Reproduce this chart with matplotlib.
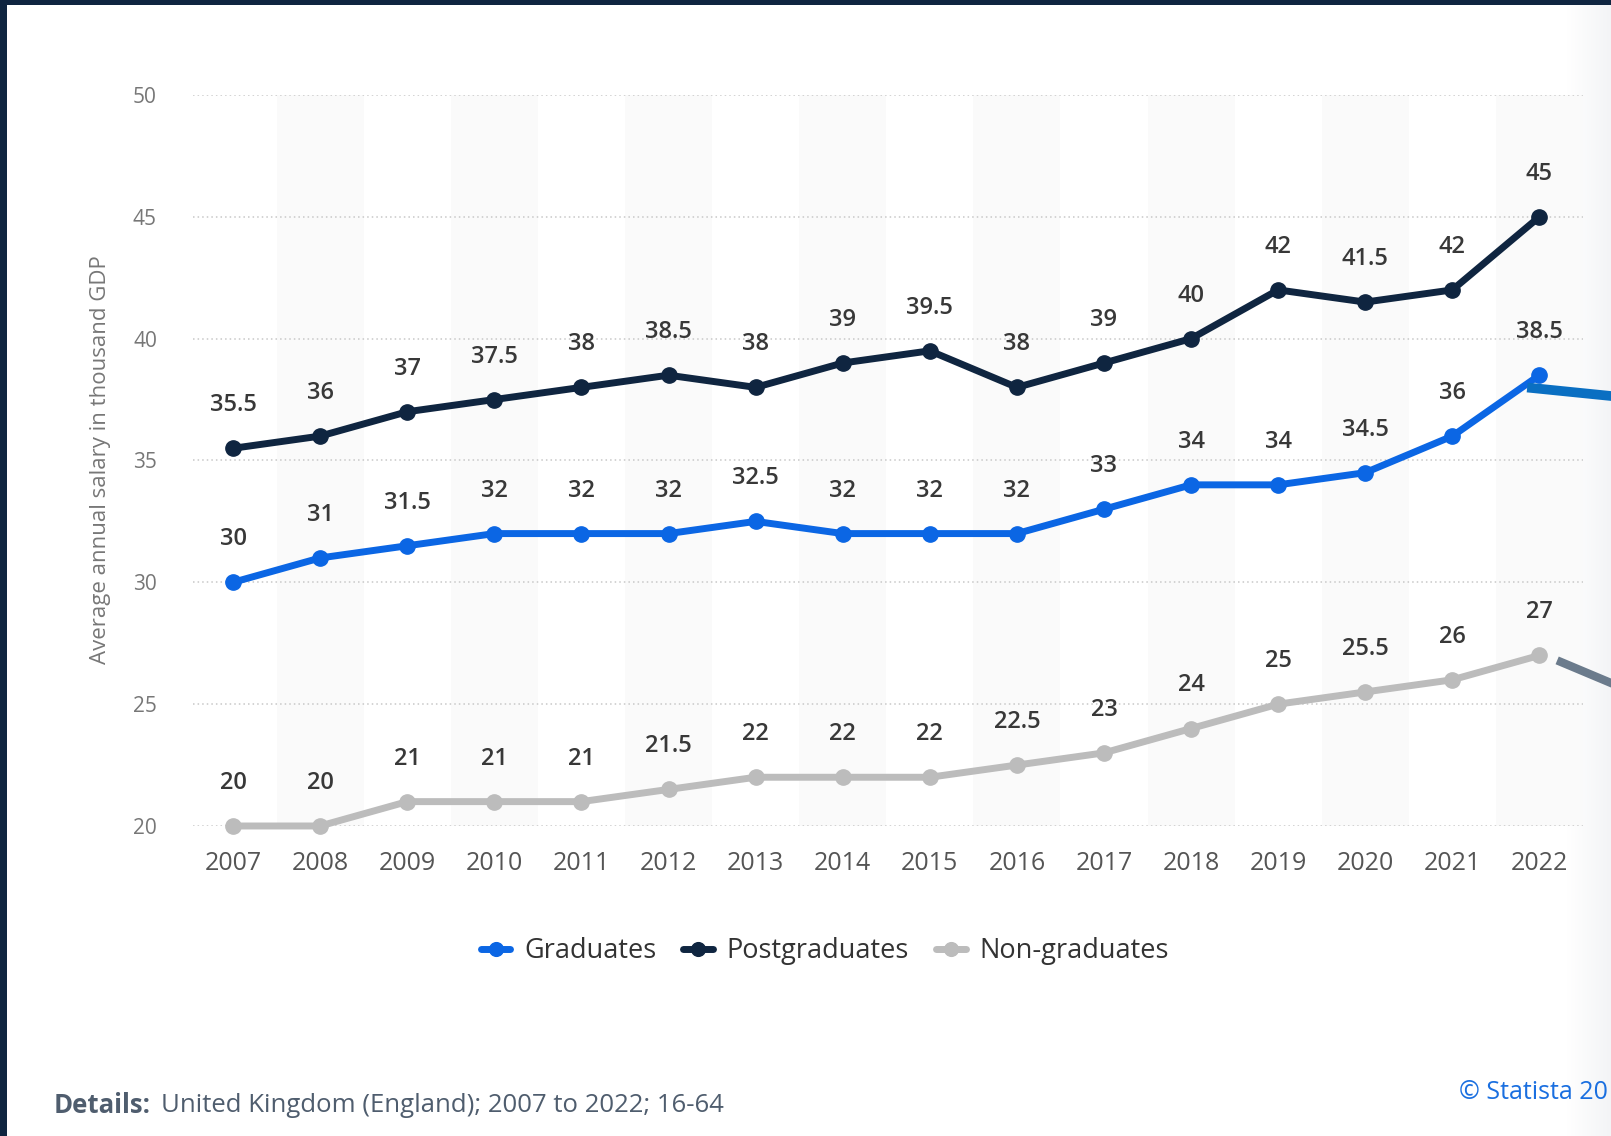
## salary by education level, UK (England) 2007-2022
import matplotlib.pyplot as plt
import numpy as np

##data
years = [2007, 2008, 2009, 2010, 2011, 2012, 2013, 2014,
         2015, 2016, 2017, 2018, 2019, 2020, 2021, 2022]
graduates = [30, 31, 31.5, 32, 32, 32, 32.5, 32, 32, 32, 33, 34, 34, 34.5, 36, 38.5]
postgraduates = [35.5, 36, 37, 37.5, 38, 38.5, 38, 39, 39.5, 38, 39, 40, 42, 41.5, 42, 45]
non_graduates = [20, 20, 21, 21, 21, 21.5, 22, 22, 22, 22.5, 23, 24, 25, 25.5, 26, 27]
series_names = ['Graduates', 'Postgraduates', 'Non-graduates']
y_ticks = [20, 25, 30, 35, 40, 45, 50]

colours = ['#0b66e4', '#0f2540', '#bcbcbc']

plt.rcParams['font.family'] = ['Open Sans', 'DejaVu Sans']

fig = plt.figure(figsize=(16.11, 11.36), dpi=100)
fig.patch.set_facecolor('#ffffff')
ax = fig.add_axes([0.1198, 0.2729, 0.8628, 0.6435])

x = np.arange(len(years))

##alternating column shading
for i in x:
    if i % 2 == 1:
        ax.axvspan(i - 0.5, i + 0.5, color='#fafafa', zorder=0, lw=0)

##grid
for t in y_ticks:
    ax.axhline(t, color='#c8c8c8', lw=1.1, ls=(0, (1, 2)), zorder=1)

##lines + labels
data = [graduates, postgraduates, non_graduates]
for vals, col, name in zip(data, colours, series_names):
    ax.plot(x, vals, color=col, lw=5, marker='o', ms=11, label=name,
            zorder=3, clip_on=False, solid_capstyle='round')
    for xi, v in zip(x, vals):
        lab = ('%g' % v)
        ax.annotate(lab, (xi, v), xytext=(0, 31), textcoords='offset points',
                    ha='center', va='center', fontsize=17, color='#383838',
                    fontweight='semibold', zorder=4)

ax.set_xlim(-0.46, 15.5)
ax.set_ylim(20, 50)
ax.set_xticks(x)
ax.set_xticklabels([str(y) for y in years], fontsize=18, color='#555555')
ax.set_yticks(y_ticks)
ax.set_yticklabels([str(t) for t in y_ticks], fontsize=15, color='#777777')
ax.tick_params(axis='both', length=0)
ax.tick_params(axis='x', pad=18)
ax.tick_params(axis='y', pad=26)
for s in ax.spines.values():
    s.set_visible(False)
ax.set_facecolor('none')

fig.text(0.0625, 0.595, 'Average annual salary in thousand GDP', rotation=90,
         ha='center', va='center', fontsize=16, color='#777777')

##legend
leg = ax.legend(loc='center', bbox_to_anchor=(0.512, 0.1625),
                bbox_transform=fig.transFigure, ncol=3, frameon=False,
                fontsize=19.5, handlelength=1.1, columnspacing=1.0,
                handletextpad=0.5, markerscale=0.9)
for t in leg.get_texts():
    t.set_color('#333333')

##footer
fig.text(0.0335, 0.027, 'Details:', fontsize=18.5, fontweight='bold',
         color='#4f5d6e', ha='left', va='center')
fig.text(0.1, 0.027, 'United Kingdom (England); 2007 to 2022; 16-64',
         fontsize=18.5, color='#4f5d6e', ha='left', va='center')
fig.text(0.9057, 0.038, '\u00a9 Statista 20', fontsize=18, color='#1a6fe0',
         ha='left', va='center')

##screenshot frame bits
grad = np.linspace(0, 1, 50).reshape(1, -1)
fig.add_artist(plt.Rectangle((0, 0), 0.0045, 1, transform=fig.transFigure,
                             color='#0f2540', lw=0))
fig.add_artist(plt.Rectangle((0, 0.9956), 1, 0.0044, transform=fig.transFigure,
                             color='#0f2540', lw=0))
fade = fig.add_axes([1567 / 1611, 0, 44 / 1611, 0.9956], zorder=-1)
fade.imshow(grad, aspect='auto', cmap=plt.matplotlib.colors.LinearSegmentedColormap.from_list(
    'fade', ['#ffffff', '#f3f4f6']))
fade.axis('off')
fig.add_artist(plt.Line2D([1532 / 1611, 1.0], [1 - 388 / 1136, 1 - 396 / 1136],
                          transform=fig.transFigure, color='#0a6fc2', lw=7))
fig.add_artist(plt.Line2D([1561 / 1611, 1.0], [1 - 662 / 1136, 1 - 683 / 1136],
                          transform=fig.transFigure, color='#6b7b8c', lw=6))

plt.savefig('out.png', dpi=100)
